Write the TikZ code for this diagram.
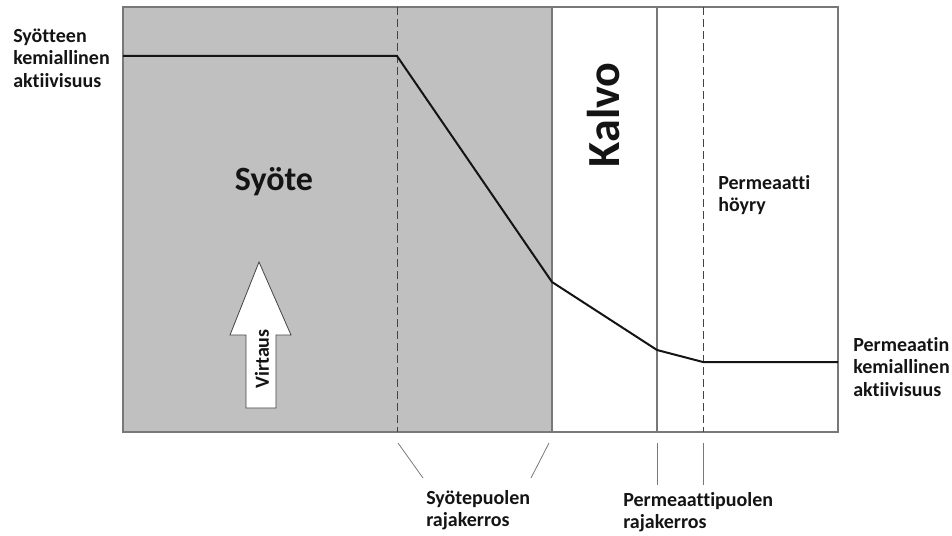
\documentclass[tikz,border=0pt]{standalone}
\usepackage{fontspec}
\setmainfont{Carlito}[Ligatures=NoCommon]
\usepackage{xcolor}
\definecolor{feedgrey}{RGB}{192,192,192}
\definecolor{framegrey}{RGB}{120,120,120}
\definecolor{inkblack}{RGB}{20,20,20}

\begin{document}
\begin{tikzpicture}[
    x=0.75pt, y=-0.75pt,
    frame/.style={draw=framegrey, line width=0.9pt},
    boundary/.style={draw=inkblack!80, line width=0.6pt, dash pattern=on 6pt off 3pt},
    profile/.style={draw=inkblack, line width=1.5pt, line join=miter},
    pointer/.style={draw=framegrey, line width=0.6pt},
    label/.style={font=\fontsize{15}{17}\selectfont\bfseries, text=inkblack, align=left, inner sep=0pt},
    title/.style={font=\fontsize{25.5}{28}\selectfont\bfseries, text=inkblack, inner sep=0pt},
    flow/.style={draw=inkblack!80, fill=white, line width=0.6pt}
]
    \useasboundingbox (0,0) rectangle (952,535);

    % syötealue ja kehys
    \fill[feedgrey] (123,7) rectangle (552,432);
    \draw[frame] (123,7) rectangle (838,432);
    \draw[frame] (552,7) -- (552,432);
    \draw[frame] (657,7) -- (657,432);
    \draw[boundary] (397,7) -- (397,432);
    \draw[boundary] (703,7) -- (703,432);

    % kemiallisen aktiivisuuden profiili
    \coordinate (feedlevel) at (123,56);
    \coordinate (feededge) at (397,56);
    \coordinate (membin) at (552,282);
    \coordinate (membout) at (657,350);
    \coordinate (permedge) at (703,362);
    \coordinate (permlevel) at (838,362);
    \draw[profile] (feedlevel) -- (feededge) -- (membin) -- (membout) -- (permedge) -- (permlevel);

    % virtausnuoli
    \draw[flow] (246,408) -- (246,335) -- (230,335) -- (259,262) -- (291,335) -- (276,335) -- (276,408) -- cycle;
    \node[label, rotate=90] (virtaus) at (262,359) {Virtaus};

    % tekstit
    \node[title] (syote) at (274,182) {Syöte};
    \node[title, font=\fontsize{34.5}{38}\selectfont\bfseries, rotate=90] (kalvo) at (604,115) {Kalvo};
    \node[label, anchor=west] (permhoyry) at (718,195) {Permeaatti\\höyry};
    \node[label, anchor=west] (feedact) at (13,58) {Syötteen\\kemiallinen\\aktiivisuus};
    \node[label, anchor=west] (permact) at (853,367) {Permeaatin\\kemiallinen\\aktiivisuus};
    \node[label, anchor=west] (feedlayer) at (426,510) {Syötepuolen\\rajakerros};
    \node[label, anchor=west] (permlayer) at (623,512) {Permeaattipuolen\\rajakerros};

    % rajakerrosten osoittimet
    \coordinate (fl1) at (398,443);
    \coordinate (fl2) at (549,443);
    \coordinate (pl1) at (657,443);
    \coordinate (pl2) at (703,443);
    \draw[pointer] (fl1) -- (423,478);
    \draw[pointer] (fl2) -- (531,478);
    \draw[pointer] (pl1) -- (657,485);
    \draw[pointer] (pl2) -- (703,485);
\end{tikzpicture}
\end{document}
